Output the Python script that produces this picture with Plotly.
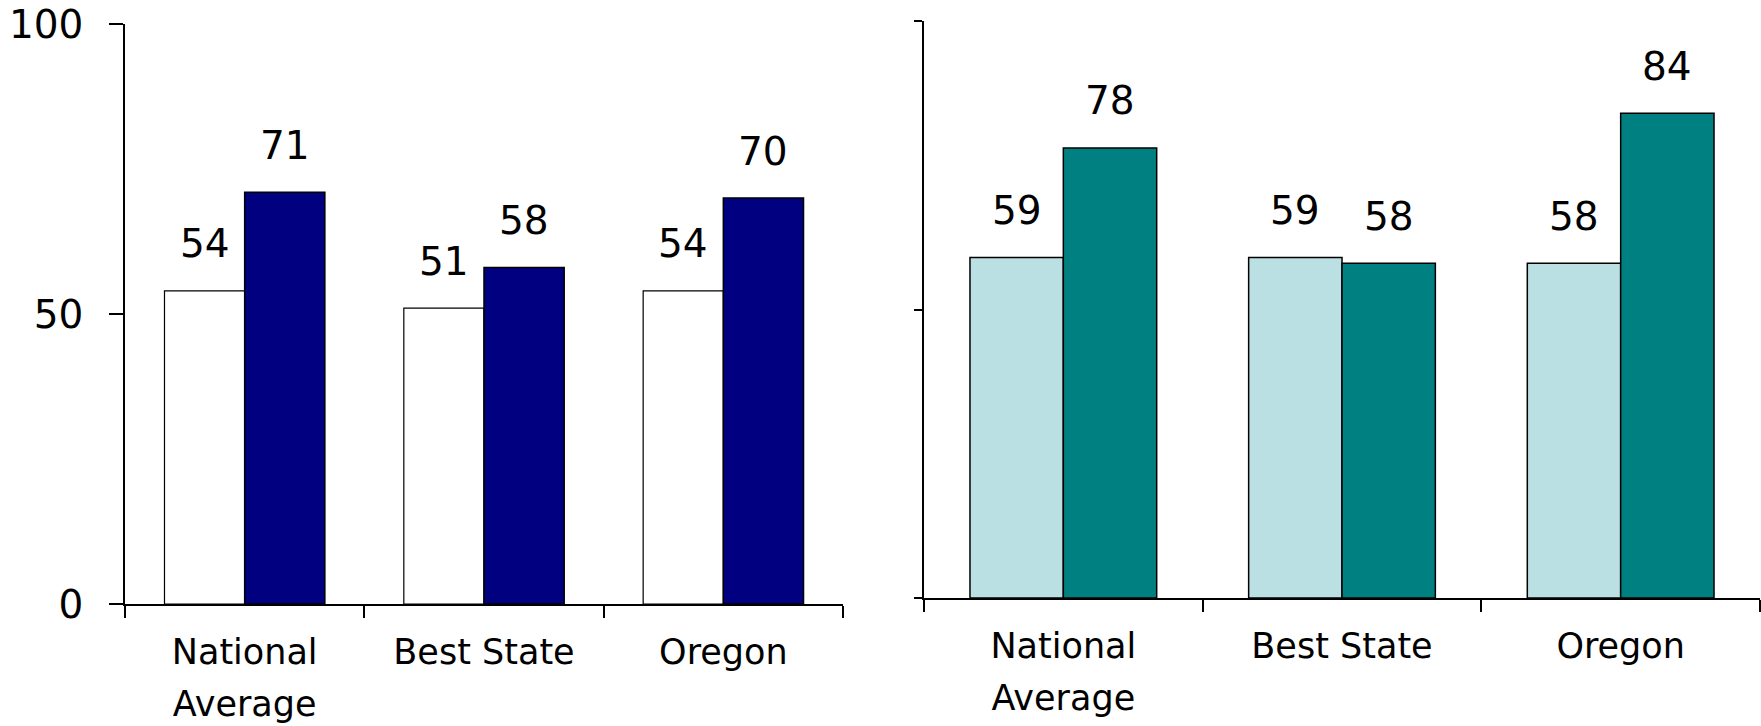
import plotly.graph_objects as go

# Categories and values for the two panels
categories = ["National Average", "Best State", "Oregon"]
tick_labels = ["National<br>Average", "Best State", "Oregon"]

left_before = [54, 51, 54]
left_after = [71, 58, 70]

right_before = [59, 59, 58]
right_after = [78, 58, 84]

W, H = 1761, 726
FONT = "DejaVu Sans"
BARGAP = 0.33

fig = go.Figure()

line_style = dict(color="black", width=1.5)

fig.add_trace(go.Bar(x=categories, y=left_before, marker=dict(color="white", line=dict(color="black", width=1.2)),
                     xaxis="x", yaxis="y", showlegend=False))
fig.add_trace(go.Bar(x=categories, y=left_after, marker=dict(color="#000080", line=line_style),
                     xaxis="x", yaxis="y", showlegend=False))
fig.add_trace(go.Bar(x=categories, y=right_before, marker=dict(color="#BBE0E3", line=line_style),
                     xaxis="x2", yaxis="y2", showlegend=False))
fig.add_trace(go.Bar(x=categories, y=right_after, marker=dict(color="#008080", line=line_style),
                     xaxis="x2", yaxis="y2", showlegend=False))

# Value labels above each bar
half = (1 - BARGAP) / 4
annotations = []
for xr, yr, series in (("x", "y", (left_before, left_after)), ("x2", "y2", (right_before, right_after))):
    for k, vals in enumerate(series):
        off = -half if k == 0 else half
        for i, v in enumerate(vals):
            annotations.append(dict(
                x=i + off, y=v, xref=xr, yref=yr, text=str(v), showarrow=False,
                yanchor="middle", yshift=47,
                font=dict(family=FONT, size=39, color="black")))

cat_font = dict(family=FONT, size=40, color="black")
span_ticks = ["<br>".join(f"<span style='font-size:35px'>{p}</span>" for p in t.split("<br>"))
              for t in tick_labels]

def xaxis_common(domain, anchor):
    return dict(domain=domain, anchor=anchor, type="category", range=[-0.5, 2.5], automargin=False,
                tickmode="array", tickvals=categories, ticktext=span_ticks,
                tickson="boundaries", ticks="outside", ticklen=12, tickwidth=1.5, tickcolor="black",
                showline=True, linecolor="black", linewidth=1.5, showgrid=False, zeroline=False,
                tickfont=cat_font, ticklabelstandoff=10)

fig.update_layout(
    template="none",
    width=W, height=H,
    margin=dict(l=0, r=0, t=0, b=0, autoexpand=False),
    paper_bgcolor="white", plot_bgcolor="white",
    barmode="group", bargap=BARGAP, bargroupgap=0,
    font=dict(family=FONT, color="black"),
    xaxis=xaxis_common([125 / W, 843 / W], "y"),
    yaxis=dict(domain=[(H - 604) / H, (H - 24) / H], anchor="x", range=[0, 100], automargin=False,
               tickmode="array", tickvals=[0, 50, 100], ticks="outside", ticklen=14,
               tickwidth=1.5, tickcolor="black", showline=True, linecolor="black", linewidth=1.5,
               showgrid=False, zeroline=False, tickfont=dict(family=FONT, size=39, color="black"),
               ticklabelstandoff=18),
    xaxis2=xaxis_common([924 / W, 1760 / W], "y2"),
    yaxis2=dict(domain=[(H - 598) / H, (H - 21) / H], anchor="x2", range=[0, 100], automargin=False,
                tickmode="array", tickvals=[0, 50, 100], ticks="outside", ticklen=8,
                tickwidth=1.5, tickcolor="black", showline=True, linecolor="black", linewidth=1.5,
                showgrid=False, zeroline=False, showticklabels=False),
    annotations=annotations,
)

fig.write_html("out.html")
